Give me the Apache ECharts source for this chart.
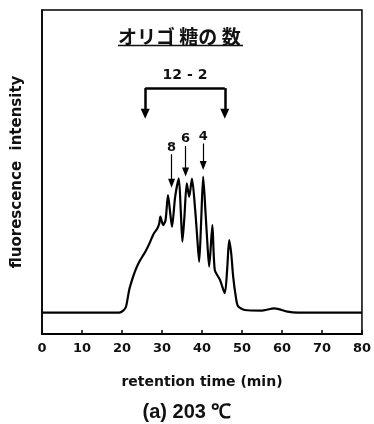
<!DOCTYPE html>
<html>
<head>
<meta charset="utf-8">
<script src="https://cdn.jsdelivr.net/npm/echarts@6/dist/echarts.min.js"></script>
<style>
  html, body { margin: 0; padding: 0; background: #fff; }
  #chart { width: 374px; height: 424px; }
</style>
</head>
<body>
<div id="chart"></div>
<script>
// retention time (min) and fluorescence intensity (arbitrary, 0-100)
const timeMin = [0, 10, 19.3, 20.3, 21.0, 21.8, 22.6, 23.4, 24.2, 25.1, 26.0, 26.7, 27.4, 28.0, 28.8, 29.3, 29.6, 30.0, 30.3, 30.9, 31.5, 32.0, 32.5, 33.3, 34.2, 34.7, 35.1, 35.6, 36.2, 36.8, 37.5, 38.3, 38.8, 39.3, 39.8, 40.3, 40.9, 41.4, 41.8, 42.6, 43.2, 44.5, 45.7, 46.3, 46.8, 47.3, 47.8, 48.4, 49.0, 50.7, 54.8, 58.1, 61.4, 63.9, 70, 80];
const intensity = [6.6, 6.6, 6.6, 7.2, 8.4, 13.6, 17.0, 19.8, 22.0, 23.9, 25.8, 27.5, 29.5, 31.1, 32.5, 34.0, 36.2, 34.5, 33.6, 35.2, 42.9, 38.0, 33.1, 42.4, 48.0, 38.0, 28.5, 36.0, 46.5, 42.4, 48.0, 38.3, 30.0, 22.3, 35.0, 48.6, 37.2, 27.0, 20.8, 33.6, 19.8, 16.7, 12.6, 20.0, 29.0, 25.0, 17.7, 12.0, 8.6, 7.4, 7.2, 7.9, 6.9, 6.6, 6.6, 6.6];

const xTicks = [0, 10, 20, 30, 40, 50, 60, 70, 80];

// peak annotations: degree of polymerisation, time, arrow top, arrow tip
const peakLabels = ['8', '6', '4'];
const peakTimes = [32.4, 35.9, 40.3];
const peakTop = [55.5, 58.0, 58.8];
const peakTip = [46.5, 50.0, 52.0];

// bracket for DP 12-2
const bracketLabel = '12 - 2';
const bracketTimes = [25.8, 45.7];
const bracketTop = 75.9;
const bracketTip = 68.0;

const seriesData = timeMin.map((t, i) => [t, intensity[i]]);

const font = '"DejaVu Sans", Verdana, sans-serif';
const font2 = '"Liberation Sans", Arial, sans-serif';

const arrowLines = peakTimes.map((t, i) => [
    { coord: [t, peakTop[i]], symbol: 'none' },
    { coord: [t, peakTip[i]], symbol: 'triangle', symbolSize: [7, 9], symbolRotate: 180 }
]);

const bracketLines = [
    [{ coord: [bracketTimes[0], bracketTop], symbol: 'none' },
     { coord: [bracketTimes[0], bracketTip], symbol: 'triangle', symbolSize: [9, 10], symbolRotate: 180 }],
    [{ coord: [bracketTimes[1], bracketTop], symbol: 'none' },
     { coord: [bracketTimes[1], bracketTip], symbol: 'triangle', symbolSize: [9, 10], symbolRotate: 180 }],
    [{ coord: [bracketTimes[0], bracketTop], symbol: 'none' },
     { coord: [bracketTimes[1], bracketTop], symbol: 'none' }]
];

const chart = echarts.init(document.getElementById('chart'));

chart.setOption({
    animation: false,
    backgroundColor: '#fff',
    grid: {
        left: 42, right: 9, top: 10, bottom: 90,
        show: true, borderColor: '#000', borderWidth: 1.5
    },
    xAxis: {
        type: 'value', min: 0, max: 80, interval: 10,
        name: 'retention time (min)',
        nameLocation: 'middle', nameGap: 41,
        nameTextStyle: { color: '#111', fontSize: 14, fontWeight: 'bold', fontFamily: font },
        axisLine: { show: true, lineStyle: { color: '#000', width: 2 } },
        axisTick: { show: true, inside: true, length: 4, lineStyle: { color: '#000', width: 1.5 } },
        axisLabel: {
            color: '#111', fontSize: 13, fontWeight: 'bold', fontFamily: font, margin: 8,
            customValues: xTicks
        },
        splitLine: { show: false }
    },
    yAxis: {
        type: 'value', min: 0, max: 100,
        name: 'fluorescence  intensity',
        nameLocation: 'middle', nameGap: 17, nameRotate: 90,
        nameTextStyle: { color: '#111', fontSize: 15, fontWeight: 'bold', fontFamily: font },
        axisLine: { show: true, lineStyle: { color: '#000', width: 1.5 } },
        axisTick: { show: false },
        axisLabel: { show: false },
        splitLine: { show: false }
    },
    title: {
        text: '(a) 203 ℃',
        left: 'center', top: 397,
        textStyle: { color: '#111', fontSize: 20, fontWeight: 'bold', fontFamily: font2 }
    },
    graphic: [
        {
            type: 'text', left: 118, top: 27,
            style: {
                text: 'オリゴ 糖の 数', fill: '#111',
                font: 'bold 19px "Noto Sans CJK JP"'
            }
        },
        {
            type: 'line', shape: { x1: 118, y1: 45.5, x2: 243, y2: 45.5 },
            style: { stroke: '#111', lineWidth: 1.5 }
        }
    ],
    series: [
        {
            type: 'line',
            data: seriesData,
            showSymbol: false,
            smooth: 0.25,
            lineStyle: { color: '#000', width: 2.2 },
            z: 3,
            markLine: {
                silent: true,
                animation: false,
                lineStyle: { color: '#000', width: 1.2, type: 'solid' },
                label: { show: false },
                data: arrowLines
            },
            markPoint: {
                silent: true,
                symbol: 'circle', symbolSize: 1,
                itemStyle: { color: 'transparent' },
                label: {
                    show: true, position: 'top', distance: 0,
                    color: '#111', fontSize: 13, fontWeight: 'bold', fontFamily: font,
                    formatter: p => p.name
                },
                data: peakLabels.map((l, i) => ({ name: l, coord: [peakTimes[i], peakTop[i]] }))
                    .concat([{ name: bracketLabel, coord: [(bracketTimes[0] + bracketTimes[1]) / 2, bracketTop + 1.5], label: { fontSize: 14 } }])
            }
        },
        {
            type: 'line',
            data: [],
            markLine: {
                silent: true,
                animation: false,
                lineStyle: { color: '#000', width: 2.5, type: 'solid' },
                label: { show: false },
                data: bracketLines
            }
        }
    ]
});
</script>
</body>
</html>
